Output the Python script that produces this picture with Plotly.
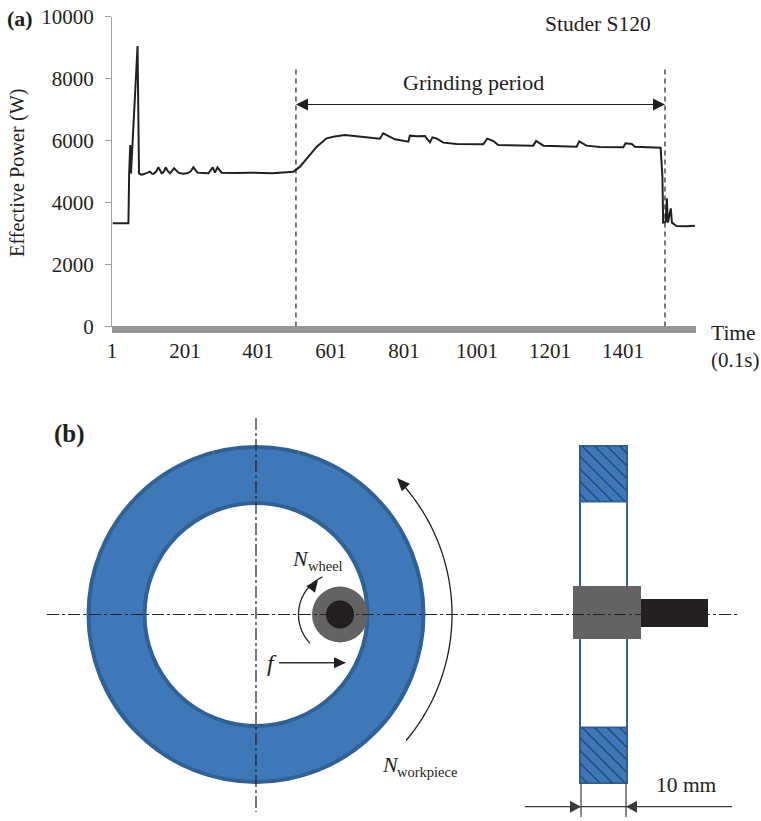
import numpy as np
import plotly.graph_objects as go

W, H = 761, 821
time_01s = [3,46,48,51,53,71,75,81,87,96,105,110,114,122,128,137,143,148,154,160,171,183,195,207,216,224,235,250,265,277,283,290,301,340,379,440,498,516,539,562,589,607,639,689,735,744,763,776,813,817,835,858,872,879,890,909,945,985,1018,1029,1046,1059,1105,1155,1163,1183,1230,1274,1281,1301,1338,1402,1408,1425,1434,1470,1504,1509,1511,1518,1521,1524,1532,1535,1548,1575,1598]
power_w = [3328,3328,4941,5855,4941,9049,4941,4900,4909,4960,4995,4930,4920,5000,5135,4941,4990,5135,5010,4941,5103,4963,4930,4941,5000,5135,4963,4950,4941,5135,4963,5135,4963,4950,4963,4945,4995,5156,5479,5801,6070,6124,6178,6124,6059,6232,6103,6038,5963,6156,6140,6146,5941,6103,6070,5931,5887,5875,5877,6060,5984,5855,5845,5834,5984,5834,5815,5801,5974,5834,5791,5780,5909,5887,5801,5780,5769,4834,3350,3382,4135,3350,3812,3350,3242,3235,3253]
y_ticks = [0,2000,4000,6000,8000,10000]
x_ticks = [1,201,401,601,801,1001,1201,1401]
grind_start, grind_end = 505, 1516
grind_arrow_p, dash_top_p = 7161, 8403

SERIF = "Liberation Serif"
INK, GREY_AX, BAND = "#231f20", "#a0a0a0", "#97979a"
BLUE, BLUE_D, HATCH = "#3f78b8", "#2f6096", "#1f4f80"
WHEEL, SHAFT = "#636363", "#231f20"

fig = go.Figure()
fig.add_trace(go.Scatter(x=time_01s, y=power_w, mode="lines", line=dict(color=INK, width=2), xaxis="x", yaxis="y", showlegend=False))
fig.add_trace(go.Scatter(x=[0], y=[0], mode="markers", marker=dict(opacity=0), xaxis="x2", yaxis="y2", showlegend=False))

shapes = []
def px(**k):
    k.setdefault("xref", "x2"); k.setdefault("yref", "y2"); k.setdefault("layer", "above")
    shapes.append(k)
def line(x0,y0,x1,y1,color=INK,width=1,dash=None):
    px(type="line",x0=x0,y0=y0,x1=x1,y1=y1,line=dict(color=color,width=width,dash=dash))
def rect(x0,y0,x1,y1,fill,lc=None,lw=0):
    px(type="rect",x0=x0,y0=y0,x1=x1,y1=y1,fillcolor=fill,line=dict(color=lc or fill,width=lw))
def circle(cx,cy,r,fill,lc=None,lw=0):
    px(type="circle",x0=cx-r,y0=cy-r,x1=cx+r,y1=cy+r,fillcolor=fill,line=dict(color=lc or fill,width=lw))
def head(tx,ty,ang,l=12,w=12,color=INK):
    c,s=np.cos(ang),np.sin(ang)
    bx,by=tx-l*c,ty-l*s
    p=[(tx,ty),(bx-w/2*s,by+w/2*c),(bx+w/2*s,by-w/2*c)]
    px(type="path",path="M"+" L".join(f"{a:.2f},{b:.2f}" for a,b in p)+" Z",fillcolor=color,line=dict(color=color,width=0))
def arc(cx,cy,r,a0,a1,color=INK,width=1.3):
    t=np.radians(np.linspace(a0,a1,60))
    px(type="path",path="M"+" L".join(f"{cx+r*np.cos(a):.2f},{cy+r*np.sin(a):.2f}" for a in t),line=dict(color=color,width=width))
def hatched(x0,y0,x1,y1,step=12.5):
    rect(x0,y0,x1,y1,BLUE,BLUE_D,2)
    w,h=x1-x0,y1-y0
    for c in np.arange(step*0.6,w+h,step):
        ax,ay=(x0+c,y1) if c<=w else (x1,y1-(c-w))
        bx,by=(x0,y1-c) if c<=h else (x0+(c-h),y0)
        line(bx,by,ax,ay,HATCH,1.7)

# panel (a) furniture
rect(112,326,696,333,BAND)
for t in (grind_start,grind_end):
    shapes.append(dict(type="line",xref="x",yref="y",x0=t,x1=t,y0=0,y1=dash_top_p,layer="above",line=dict(color=INK,width=1.2,dash="5px,4px")))
shapes.append(dict(type="line",xref="x",yref="y",x0=grind_start+30,x1=grind_end-30,y0=grind_arrow_p,y1=grind_arrow_p,layer="above",line=dict(color=INK,width=1.2)))
head(296,104.5,np.pi); head(665,104.5,0)

# panel (b) ring
CX,CY=256,614.5
circle(CX,CY,167.5,BLUE,BLUE_D,4)
circle(CX,CY,111.5,"white",BLUE_D,4)
circle(340,CY,28,WHEEL)
circle(340,CY,14,SHAFT)
# side view
line(580,445,580,783,BLUE_D,2); line(627,445,627,783,BLUE_D,2)
hatched(580,446,627,501.5); hatched(580,727.5,627,783)
rect(573,586,641,639,WHEEL)
rect(641,599,708,627,SHAFT)
# centre lines
CL="12px,3px,3px,3px"
line(47,CY,737,CY,INK,1.2,CL)
line(CX,418,CX,812,INK,1.2,CL)
# rotation arrows
arc(CX,CY,196,-43,40)
head(397,478,np.radians(-133),13,11)
arc(340,CY,41.5,136,245)
head(318,580,np.radians(-52),12,11)
# feed arrow
line(279,662.7,336,662.7,"#333333",1.6); head(346,662.7,0,12,11)
# 10 mm dimension
DK="#3a3a3a"
line(581,783,581,817,DK,1.2); line(626,783,626,817,DK,1.2)
line(525,806.7,732,806.7,DK,1.2)
head(581,806.7,0,11,12,DK); head(626,806.7,np.pi,11,12,DK)

ann=[]
def text(x,y,s,size=18,anchor="center",color=INK,**k):
    ann.append(dict(x=x,y=y,xref="x2",yref="y2",text=s,showarrow=False,xanchor=anchor,yanchor="middle",font=dict(family=SERIF,size=size,color=color),**k))
text(5,18,"<b>(a)</b>",22,"left")
text(52,434,"<b>(b)</b>",25,"left")
text(598,24,"Studer S120",21.5)
text(473,82,"Grinding period",22)
text(17,173,"Effective Power (W)",20.3,textangle=-90)
text(709,333,"Time",21.5,"left")
text(709,360,"(0.1s)",21,"left")
text(290,558,"<i>N</i>",22,"left")
text(306,566,"wheel",14.5,"left")
text(265,663,"<i>f</i>",24,"left")
text(380,764,"<i>N</i>",22,"left")
text(395,772,"workpiece",14.5,"left")
text(654,785,"10 mm",21.5,"left")

fig.update_layout(
    width=W,height=H,margin=dict(l=0,r=0,t=0,b=0,autoexpand=False),paper_bgcolor="white",plot_bgcolor="rgba(0,0,0,0)",showlegend=False,
    font=dict(family=SERIF,size=21,color=INK),shapes=shapes,annotations=ann,
    xaxis=dict(domain=[112/W,696/W],range=[1,1601],tickmode="array",tickvals=x_ticks,ticktext=[str(v) for v in x_ticks],automargin=False,
               showgrid=False,zeroline=False,showline=False,ticks="outside",ticklen=5,tickcolor="rgba(0,0,0,0)",anchor="y"),
    yaxis=dict(domain=[1-326.5/H,1-16.5/H],range=[0,10000],tickmode="array",tickvals=y_ticks,showgrid=False,zeroline=False,automargin=False,
               showline=True,linecolor=GREY_AX,linewidth=1,ticks="outside",ticklen=6,tickcolor=GREY_AX,ticklabelstandoff=7,anchor="x",tickformat="d"),
    xaxis2=dict(domain=[0,1],range=[0,W],visible=False,fixedrange=True,anchor="y2",automargin=False),
    yaxis2=dict(domain=[0,1],range=[H,0],visible=False,fixedrange=True,anchor="x2",automargin=False),
)
fig.write_html("out.html",config=dict(displayModeBar=False),post_script="document.body.style.margin='0';document.documentElement.style.overflow='hidden';")
